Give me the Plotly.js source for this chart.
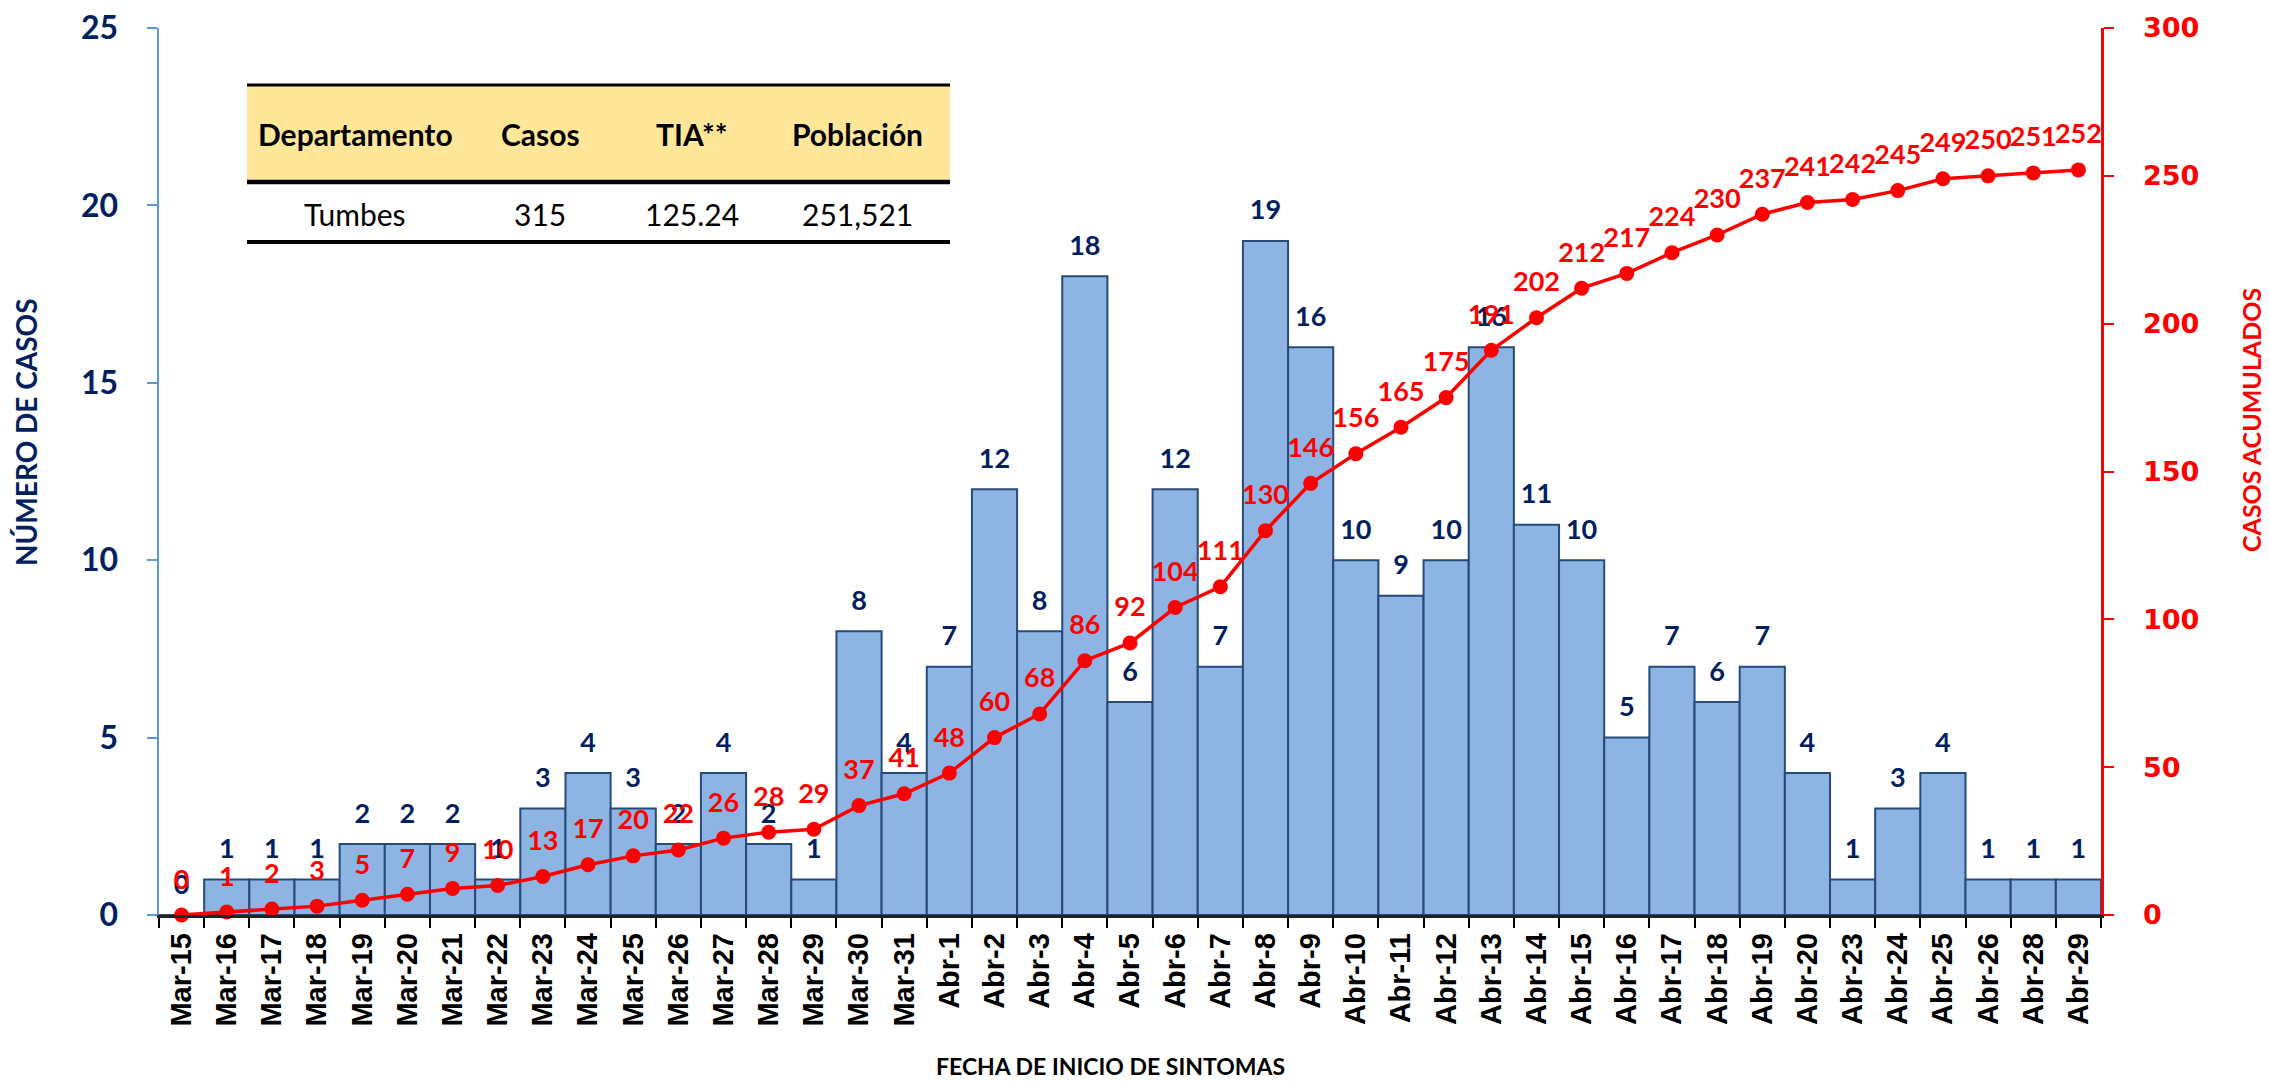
<!DOCTYPE html>
<html>
<head>
<meta charset="utf-8">
<script src="https://cdn.plot.ly/plotly-3.0.1.min.js"></script>
<style>
  html, body { margin: 0; padding: 0; background: #ffffff; }
  #chart { width: 2269px; height: 1084px; }
</style>
</head>
<body>
<div id="chart"></div>
<script>
// ---- Data ----
const fechas = ["Mar-15","Mar-16","Mar-17","Mar-18","Mar-19","Mar-20","Mar-21","Mar-22","Mar-23","Mar-24",
  "Mar-25","Mar-26","Mar-27","Mar-28","Mar-29","Mar-30","Mar-31","Abr-1","Abr-2","Abr-3",
  "Abr-4","Abr-5","Abr-6","Abr-7","Abr-8","Abr-9","Abr-10","Abr-11","Abr-12","Abr-13",
  "Abr-14","Abr-15","Abr-16","Abr-17","Abr-18","Abr-19","Abr-20","Abr-23","Abr-24","Abr-25",
  "Abr-26","Abr-28","Abr-29"];
const casos = [0,1,1,1,2,2,2,1,3,4,
  3,2,4,2,1,8,4,7,12,8,
  18,6,12,7,19,16,10,9,10,16,
  11,10,5,7,6,7,4,1,3,4,
  1,1,1];
const acumulados = [0,1,2,3,5,7,9,10,13,17,
  20,22,26,28,29,37,41,48,60,68,
  86,92,104,111,130,146,156,165,175,191,
  202,212,217,224,230,237,241,242,245,249,
  250,251,252];
const tablaEncabezados = ["Departamento","Casos","TIA**","Población"];
const tablaValores = ["Tumbes","315","125.24","251,521"];
const tituloX = "FECHA DE INICIO DE SINTOMAS";
const tituloY = "NÚMERO DE CASOS";
const tituloY2 = "CASOS ACUMULADOS";

// ---- Layout helpers (pixel -> paper) ----
const W = 2269, H = 1084;
const mL = 159, mR = 168, mT = 28, mB = 169;
const pw = W - mL - mR, ph = H - mT - mB;
const px = x => (x - mL) / pw;
const py = y => (H - mB - y) / ph;

const tableLeft = 247, tableRight = 950;
const tableTop = 85, headerBottom = 182, tableBottom = 242;
const colCenters = [355, 540, 692, 857];

const shapes = [
  {type:'rect', xref:'paper', yref:'paper', x0:px(tableLeft), x1:px(tableRight), y0:py(headerBottom), y1:py(tableTop),
   fillcolor:'#FFE699', line:{width:0}, layer:'above'},
  {type:'line', xref:'paper', yref:'paper', x0:px(tableLeft), x1:px(tableRight), y0:py(tableTop), y1:py(tableTop),
   line:{color:'#000000', width:3}},
  {type:'line', xref:'paper', yref:'paper', x0:px(tableLeft), x1:px(tableRight), y0:py(headerBottom), y1:py(headerBottom),
   line:{color:'#000000', width:4.5}},
  {type:'line', xref:'paper', yref:'paper', x0:px(tableLeft), x1:px(tableRight), y0:py(tableBottom), y1:py(tableBottom),
   line:{color:'#000000', width:4}}
];

const navy = '#002060';
const annotations = [];
tablaEncabezados.forEach((t, i) => {
  annotations.push({xref:'paper', yref:'paper', x:px(colCenters[i]), y:py(134), text:'<b>'+t+'</b>',
    showarrow:false, xanchor:'center', yanchor:'middle', font:{family:'Lato, sans-serif', size:30, color:'#000000'}});
});
tablaValores.forEach((t, i) => {
  annotations.push({xref:'paper', yref:'paper', x:px(colCenters[i]), y:py(214), text:t,
    showarrow:false, xanchor:'center', yanchor:'middle', font:{family:'Lato, sans-serif', size:30, color:'#000000'}});
});
// axis titles
annotations.push({xref:'paper', yref:'paper', x:px(1110), y:py(1066), text:'<b>'+tituloX+'</b>',
  showarrow:false, xanchor:'center', yanchor:'middle', font:{family:'Lato, sans-serif', size:23, color:'#000000'}});
annotations.push({xref:'paper', yref:'paper', x:px(26), y:py(432), text:'<b>'+tituloY+'</b>', textangle:-90,
  showarrow:false, xanchor:'center', yanchor:'middle', font:{family:'Lato, sans-serif', size:28, color:navy}});
annotations.push({xref:'paper', yref:'paper', x:px(2251), y:py(420), text:'<b>'+tituloY2+'</b>', textangle:-90,
  showarrow:false, xanchor:'center', yanchor:'middle', font:{family:'Lato, sans-serif', size:25, color:'#FF0000'}});

const traceBars = {
  type:'bar', x:fechas, y:casos, yaxis:'y',
  marker:{color:'#8DB4E2', line:{color:'#264B78', width:2}},
  hoverinfo:'x+y', showlegend:false
};
// labels above bars (transparent markers give the offset)
const traceBarLabels = {
  type:'scatter', mode:'markers+text', x:fechas, y:casos, yaxis:'y',
  marker:{color:'rgba(0,0,0,0)', size:22},
  text:casos.map(String), textposition:'top center', cliponaxis:false,
  textfont:{family:'Lato, sans-serif', size:27, color:navy, weight:'bold'},
  showlegend:false, hoverinfo:'skip'
};
const traceLine = {
  type:'scatter', mode:'lines+markers', x:fechas, y:acumulados, yaxis:'y2',
  line:{color:'#FF0000', width:3.5},
  marker:{color:'#FF0000', size:15},
  cliponaxis:false, showlegend:false
};
const traceLineLabels = {
  type:'scatter', mode:'markers+text', x:fechas, y:acumulados, yaxis:'y2',
  marker:{color:'rgba(0,0,0,0)', size:30},
  text:acumulados.map(String), textposition:'top center', cliponaxis:false,
  textfont:{family:'Lato, sans-serif', size:27, color:'#FF0000', weight:'bold'},
  showlegend:false, hoverinfo:'skip'
};

const layout = {
  width:W, height:H,
  margin:{l:mL, r:mR, t:mT, b:mB},
  paper_bgcolor:'#ffffff', plot_bgcolor:'#ffffff',
  bargap:0,
  showlegend:false,
  xaxis:{
    type:'category', range:[-0.5, fechas.length - 0.5], autorange:false,
    tickson:'boundaries', ticks:'outside', ticklen:10, tickwidth:2, tickcolor:'#000000',
    showline:true, linecolor:'#222222', linewidth:2.5, showgrid:false, zeroline:false,
    tickangle:-90, ticklabelstandoff:4,
    tickfont:{family:'Liberation Sans, Arial, sans-serif', size:29, color:'#000000', weight:'bold'},
    automargin:false
  },
  yaxis:{
    range:[0,25], dtick:5, tick0:0, showgrid:false, zeroline:false,
    showline:true, linecolor:'#5B9BD5', linewidth:2.5,
    ticks:'outside', ticklen:10, tickwidth:2, tickcolor:'#5B9BD5',
    ticklabelstandoff:22,
    tickfont:{family:'Lato, sans-serif', size:32, color:navy, weight:'bold'},
    automargin:false
  },
  yaxis2:{
    range:[0,300], dtick:50, tick0:0, overlaying:'y', side:'right',
    showgrid:false, zeroline:false,
    showline:true, linecolor:'#FF0000', linewidth:2.5,
    ticks:'outside', ticklen:10, tickwidth:2, tickcolor:'#FF0000',
    ticklabelstandoff:24,
    tickfont:{family:'DejaVu Sans, Verdana, sans-serif', size:27, color:'#FF0000', weight:'bold'},
    automargin:false
  },
  shapes:shapes,
  annotations:annotations
};

Plotly.newPlot('chart', [traceBars, traceBarLabels, traceLine, traceLineLabels], layout, {displayModeBar:false, staticPlot:true});
</script>
</body>
</html>
